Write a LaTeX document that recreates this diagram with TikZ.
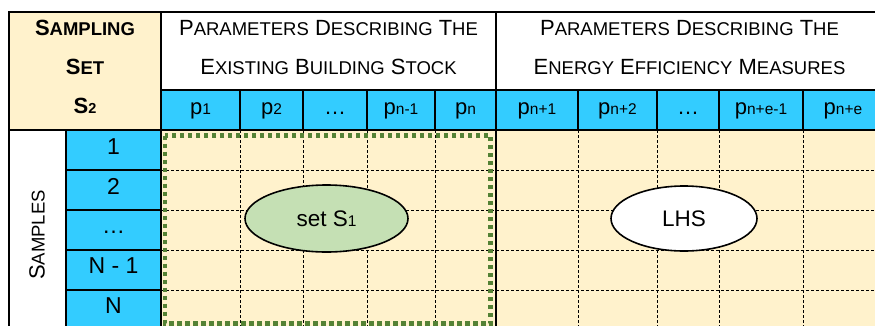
\documentclass[tikz,border=0pt]{standalone}
\usepackage{fontspec}
\setmainfont{Liberation Sans}
\usetikzlibrary{shapes.geometric}

\definecolor{cellyellow}{HTML}{FFF2CC}
\definecolor{cellblue}{HTML}{33CCFF}
\definecolor{setgreen}{HTML}{C5E0B4}
\definecolor{framegreen}{HTML}{548235}

% hand-made small capitals: large initial, smaller remaining capitals
\newcommand\Lg[1]{{\fontsize{22}{26}\selectfont #1}}
\newcommand\Sm[1]{{\fontsize{18.5}{22}\selectfont #1}}
\newcommand\subs[1]{{\fontsize{15.5}{16}\selectfont #1}}

\tikzset{
  solidrule/.style={line width=2pt, black},
  gridrule/.style={line width=0.9pt, black, dash pattern=on 3pt off 2pt},
  txt/.style={anchor=base, inner sep=0pt, font=\fontsize{22}{26}\selectfont},
  idx/.style={anchor=base, inner sep=0pt, font=\fontsize{23}{27}\selectfont},
  setframe/.style={draw=framegreen, line width=4.5pt, dash pattern=on 4.5pt off 3.5pt},
  oval/.style={ellipse, draw, line width=1.6pt, inner sep=0pt, font=\fontsize{22.5}{26}\selectfont}
}

\begin{document}
\begin{tikzpicture}[x=1pt,y=-1pt]
\useasboundingbox (0,0) rectangle (875,325);
\clip (0,0) rectangle (875,325);

% cell fills
\fill[cellyellow] (9,12) rectangle (161,130);
\fill[white] (161,12) rectangle (883,90);
\fill[cellblue] (161,90) rectangle (883,130);
\fill[white] (9,130) rectangle (66,335);
\fill[cellblue] (66,130) rectangle (161,335);
\fill[cellyellow] (161,130) rectangle (883,335);

% dashed grid of the sample body
\foreach \y in {170,210,250,290} \draw[gridrule] (161,\y) -- (883,\y);
\foreach \x in {240,303,367,435,578,657,719,803} \draw[gridrule] (\x,130) -- (\x,335);

% solid table rules
\draw[solidrule] (9,335) -- (9,12) -- (883,12);
\draw[solidrule] (161,12) -- (161,335);
\draw[solidrule] (496,12) -- (496,335);
\draw[solidrule] (161,90) -- (883,90);
\draw[solidrule] (9,130) -- (883,130);
\draw[solidrule] (66,130) -- (66,335);
\foreach \y in {170,210,250,290} \draw[solidrule] (66,\y) -- (161,\y);
\foreach \x in {240,303,367,435,578,657,719,803} \draw[solidrule] (\x,90) -- (\x,130);

% frame around the building stock block
\draw[setframe] (165,135.5) rectangle (490.5,323.5);

% sampled sets
\node[oval, fill=setgreen, minimum width=163pt, minimum height=67pt] (setS1) at (326.5,218.5) {set S\subs{1}};
\node[oval, fill=white, minimum width=146pt, minimum height=65pt] (lhs) at (684,218.5) {LHS};

% corner header
\node[txt, font=\bfseries] (samp1) at (85,35) {\Lg{S}\Sm{AMPLING}};
\node[txt, font=\bfseries] (samp2) at (85,74) {\Lg{S}\Sm{ET}};
\node[txt, font=\bfseries] (samp3) at (85,113.5) {\Lg{S}{\fontsize{14.5}{16}\selectfont 2}};

% group headers
\node[txt] (hdrA1) at (328.5,35) {\Lg{P}\Sm{ARAMETERS} \Lg{D}\Sm{ESCRIBING} \Lg{T}\Sm{HE}};
\node[txt] (hdrA2) at (328.5,74) {\Lg{E}\Sm{XISTING} \Lg{B}\Sm{UILDING} \Lg{S}\Sm{TOCK}};
\node[txt] (hdrB1) at (689.5,35) {\Lg{P}\Sm{ARAMETERS} \Lg{D}\Sm{ESCRIBING} \Lg{T}\Sm{HE}};
\node[txt] (hdrB2) at (689.5,74) {\Lg{E}\Sm{NERGY} \Lg{E}\Sm{FFICIENCY} \Lg{M}\Sm{EASURES}};

% parameter labels
\node[txt] (pa) at (200.5,114.5) {p\subs{1}};
\node[txt] (pb) at (271.5,114.5) {p\subs{2}};
\node[txt] (pc) at (335,114.5) {…};
\node[txt] (pd) at (401,114.5) {p\subs{n-1}};
\node[txt] (pe) at (465.5,114.5) {p\subs{n}};
\node[txt] (pf) at (537,114.5) {p\subs{n+1}};
\node[txt] (pg) at (617.5,114.5) {p\subs{n+2}};
\node[txt] (ph) at (688,114.5) {…};
\node[txt] (pi) at (761,114.5) {p\subs{n+e-1}};
\node[txt] (pj) at (843,114.5) {p\subs{n+e}};

% sample indices
\node[idx] (r1) at (113.5,154) {1};
\node[idx] (r2) at (113.5,194) {2};
\node[idx] (r3) at (113.5,233) {…};
\node[idx] (r4) at (113.5,273) {N - 1};
\node[idx] (r5) at (113.5,313) {N};

\node[inner sep=0pt, rotate=90] (samples) at (37,235) {\Lg{S}\Sm{AMPLES}};
\end{tikzpicture}
\end{document}
